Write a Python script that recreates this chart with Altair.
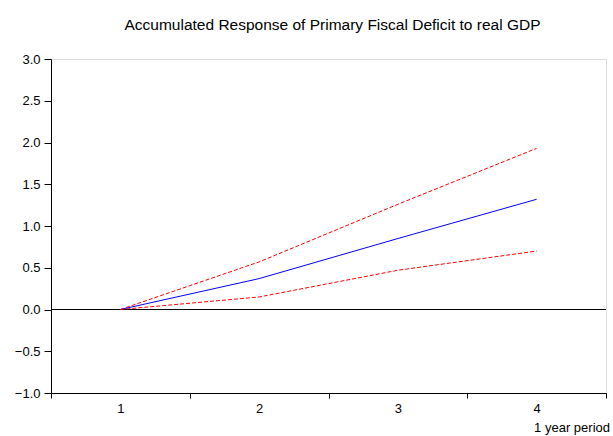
import altair as alt
import pandas as pd

# Accumulated impulse response and its +/- 2 S.E. bands
periods = [1, 2, 3, 4]
response = [0.0, 0.37, 0.85, 1.32]
upper_band = [0.0, 0.57, 1.26, 1.93]
lower_band = [0.0, 0.15, 0.47, 0.70]

W, H = 555, 334
FONT = "Liberation Sans"

df = pd.DataFrame({
    "period": periods,
    "response": response,
    "upper": upper_band,
    "lower": lower_band,
})

x_enc = alt.X(
    "period:O",
    scale=alt.Scale(type="band", paddingInner=0, paddingOuter=0),
    axis=alt.Axis(
        title=None, labelAngle=0, tickBand="extent", grid=False,
        tickSize=5, labelPadding=4, labelFontSize=13, labelFont=FONT,
        labelColor="black", tickColor="black", domainColor="black",
    ),
)
y_scale = alt.Scale(domain=[-1, 3], nice=False, zero=False)
y_axis = alt.Axis(
    title=None, values=[-1, -0.5, 0, 0.5, 1, 1.5, 2, 2.5, 3], format=".1f",
    grid=False, tickSize=7, labelPadding=4, labelFontSize=13, labelFont=FONT,
    labelColor="black", tickColor="black", domainColor="black",
)

base = alt.Chart(df)

zero_line = alt.Chart(pd.DataFrame({"v": [0.0]})).mark_rule(
    color="black", strokeWidth=1
).encode(y=alt.Y("v:Q", scale=y_scale, axis=y_axis))

mid = base.mark_line(color="#0000ff", strokeWidth=1).encode(
    x=x_enc, y=alt.Y("response:Q", scale=y_scale, axis=y_axis)
)
up = base.mark_line(color="#ff0000", strokeWidth=1, strokeDash=[4, 2]).encode(
    x=x_enc, y=alt.Y("upper:Q", scale=y_scale, axis=y_axis)
)
lo = base.mark_line(color="#ff0000", strokeWidth=1, strokeDash=[4, 2]).encode(
    x=x_enc, y=alt.Y("lower:Q", scale=y_scale, axis=y_axis)
)

unit_label = alt.Chart(pd.DataFrame({"t": ["1 year period"]})).mark_text(
    align="right", baseline="middle", fontSize=13, font=FONT, color="black"
).encode(x=alt.value(W + 4), y=alt.value(H + 35), text="t:N")

chart = (
    alt.layer(zero_line, up, mid, lo, unit_label)
    .properties(
        width=W, height=H,
        title=alt.TitleParams(
            "Accumulated Response of Primary Fiscal Deficit to real GDP",
            fontSize=15.5, font=FONT, fontWeight="normal", color="black",
            anchor="middle", offset=20, dx=4,
        ),
        autosize=alt.AutoSizeParams(type="none"),
        padding={"left": 51, "top": 59, "right": 7, "bottom": 43},
    )
    .configure_view(stroke="black", strokeWidth=1)
    .configure(background="white")
)

chart.save("out.html", embed_options={"renderer": "svg", "actions": False})
